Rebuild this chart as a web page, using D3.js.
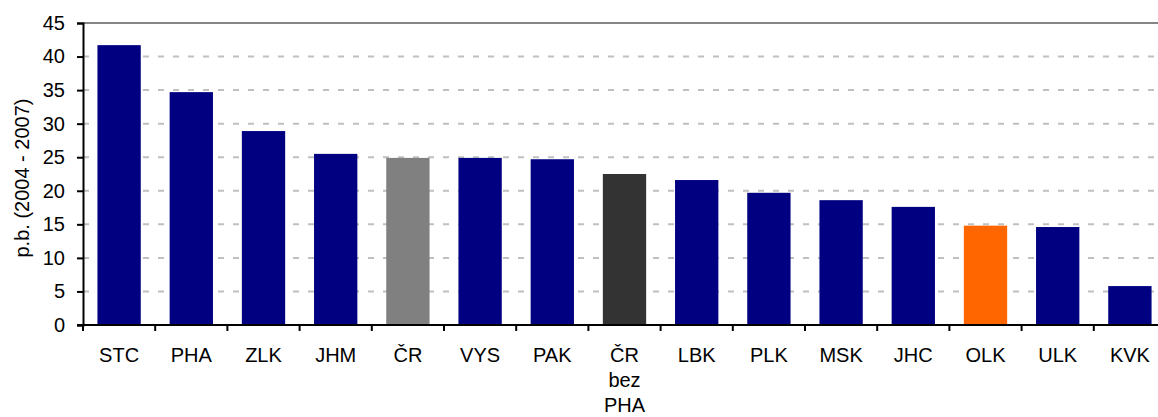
<!DOCTYPE html>
<html>
<head>
<meta charset="utf-8">
<script src="https://cdn.jsdelivr.net/npm/d3@7"></script>
<style>
  body { margin: 0; background: #fff; }
  text { font-family: "Liberation Sans", Arial, sans-serif; }
</style>
</head>
<body>
<div id="chart"></div>
<script>
// data
const regions = ["STC", "PHA", "ZLK", "JHM", "ČR", "VYS", "PAK", "ČR bez PHA", "LBK", "PLK", "MSK", "JHC", "OLK", "ULK", "KVK"];
const values = [41.7, 34.7, 28.9, 25.5, 24.9, 24.9, 24.7, 22.5, 21.6, 19.7, 18.6, 17.6, 14.8, 14.6, 5.8];
const yTicks = [0, 5, 10, 15, 20, 25, 30, 35, 40, 45];

// colour per bar: national average grey, without Prague dark grey, Olomouc orange
const barColor = function (name) {
  if (name === "ČR") return "#808080";
  if (name === "ČR bez PHA") return "#333333";
  if (name === "OLK") return "#ff6600";
  return "#000080";
};

const W = 1158, H = 417;
// plot area, the right edge runs a little past the picture
const plot = { left: 83, top: 23, bottom: 325, right: 1166 };
const fontSize = "20px";

const svg = d3.select("#chart")
  .append("svg")
  .attr("width", W)
  .attr("height", H);

const x = d3.scaleBand()
  .domain(regions)
  .range([plot.left, plot.right])
  .paddingInner(0.4)
  .paddingOuter(0.2);

const y = d3.scaleLinear().domain([0, 45]).range([plot.bottom, plot.top]);

// gridlines
svg.append("g")
  .selectAll("line")
  .data(yTicks.filter(d => d > 0))
  .join("line")
  .attr("x1", plot.left)
  .attr("x2", plot.right)
  .attr("y1", d => y(d))
  .attr("y2", d => y(d))
  .attr("stroke", d => d === 45 ? "#858585" : "#c0c0c0")
  .attr("stroke-width", 2)
  .attr("stroke-dasharray", d => d === 45 ? null : "6,9");

// bars
svg.append("g")
  .selectAll("rect")
  .data(regions)
  .join("rect")
  .attr("x", d => x(d))
  .attr("y", (d, i) => y(values[i]))
  .attr("width", x.bandwidth())
  .attr("height", (d, i) => y(0) - y(values[i]))
  .attr("fill", d => barColor(d));

// Y axis
const yAxis = svg.append("g")
  .attr("transform", `translate(${plot.left},0)`)
  .call(d3.axisLeft(y).tickValues(yTicks).tickSize(6).tickPadding(12));
yAxis.select(".domain").attr("stroke", "#000").attr("stroke-width", 2);
yAxis.selectAll(".tick line").attr("stroke", "#000").attr("stroke-width", 2);
yAxis.selectAll(".tick text")
  .attr("fill", "#000")
  .style("font-size", fontSize);

// X axis line and ticks at category borders
svg.append("line")
  .attr("x1", plot.left - 6)
  .attr("x2", plot.right)
  .attr("y1", plot.bottom)
  .attr("y2", plot.bottom)
  .attr("stroke", "#000")
  .attr("stroke-width", 2);

svg.append("g")
  .selectAll("line")
  .data(d3.range(regions.length + 1))
  .join("line")
  .attr("x1", i => plot.left + i * x.step())
  .attr("x2", i => plot.left + i * x.step())
  .attr("y1", plot.bottom)
  .attr("y2", plot.bottom + 6)
  .attr("stroke", "#000")
  .attr("stroke-width", 2);

// category labels, "ČR bez PHA" wraps onto three lines
const labels = svg.append("g")
  .selectAll("text")
  .data(regions)
  .join("text")
  .attr("text-anchor", "middle")
  .attr("y", 362)
  .style("font-size", fontSize)
  .attr("fill", "#000");

labels.selectAll("tspan")
  .data(d => d.split(" ").map(w => ({ w: w, c: d })))
  .join("tspan")
  .attr("x", d => x(d.c) + x.bandwidth() / 2)
  .attr("dy", (d, i) => i === 0 ? 0 : 25)
  .text(d => d.w);

// Y axis title
svg.append("text")
  .attr("transform", `translate(29,${(plot.top + plot.bottom) / 2 + 4}) rotate(-90)`)
  .attr("text-anchor", "middle")
  .style("font-size", fontSize)
  .attr("fill", "#000")
  .text("p.b. (2004 - 2007)");
</script>
</body>
</html>
